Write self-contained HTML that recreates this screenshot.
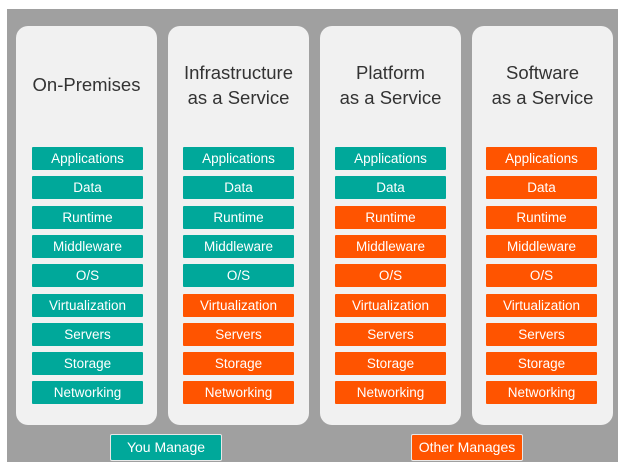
<!DOCTYPE html>
<html><head><meta charset="utf-8"><style>
*{margin:0;padding:0;box-sizing:border-box}
body{width:618px;height:462px;background:#fff;position:relative;overflow:hidden;font-family:"Liberation Sans","DejaVu Sans",sans-serif}
.bg{position:absolute;left:7px;top:9px;width:611px;height:453px;background:#a0a0a0}
.p{position:absolute;top:26px;width:141px;height:399px;background:#f1f1f1;border-radius:12px}
.t{position:absolute;left:0;width:100%;text-align:center;color:#333;font-size:18.5px;line-height:25px}
.b{position:absolute;width:111px;height:23px;color:#fff;font-size:13.5px;line-height:23px;text-align:center;border-radius:1px}
.g{background:#00a89a}
.o{background:#ff5400}
.l{position:absolute;top:434px;height:27px;width:112px;color:#fff;font-size:14px;line-height:25px;text-align:center;border:1.5px solid #e8e8e8;border-radius:2px}
</style></head><body>
<div class="bg"></div>
<div class="p" style="left:16px"><div class="t" style="top:46px">On-Premises</div></div>
<div class="p" style="left:168px"><div class="t" style="top:34px">Infrastructure<br>as a Service</div></div>
<div class="p" style="left:320px"><div class="t" style="top:34px">Platform<br>as a Service</div></div>
<div class="p" style="left:472px"><div class="t" style="top:34px">Software<br>as a Service</div></div>
<div id="boxes"></div>
<div class="l g" style="left:110px">You Manage</div>
<div class="l o" style="left:411px">Other Manages</div>
<script>
var names=["Applications","Data","Runtime","Middleware","O/S","Virtualization","Servers","Storage","Networking"];
var xs=[32,183,335,486];var teal=[9,5,2,0];var h="";
for(var c=0;c<4;c++)for(var r=0;r<9;r++){
h+='<div class="b '+(r<teal[c]?'g':'o')+'" style="left:'+xs[c]+'px;top:'+Math.round(147+r*29.3)+'px">'+names[r]+'</div>';}
document.getElementById("boxes").innerHTML=h;
</script>
</body></html>
